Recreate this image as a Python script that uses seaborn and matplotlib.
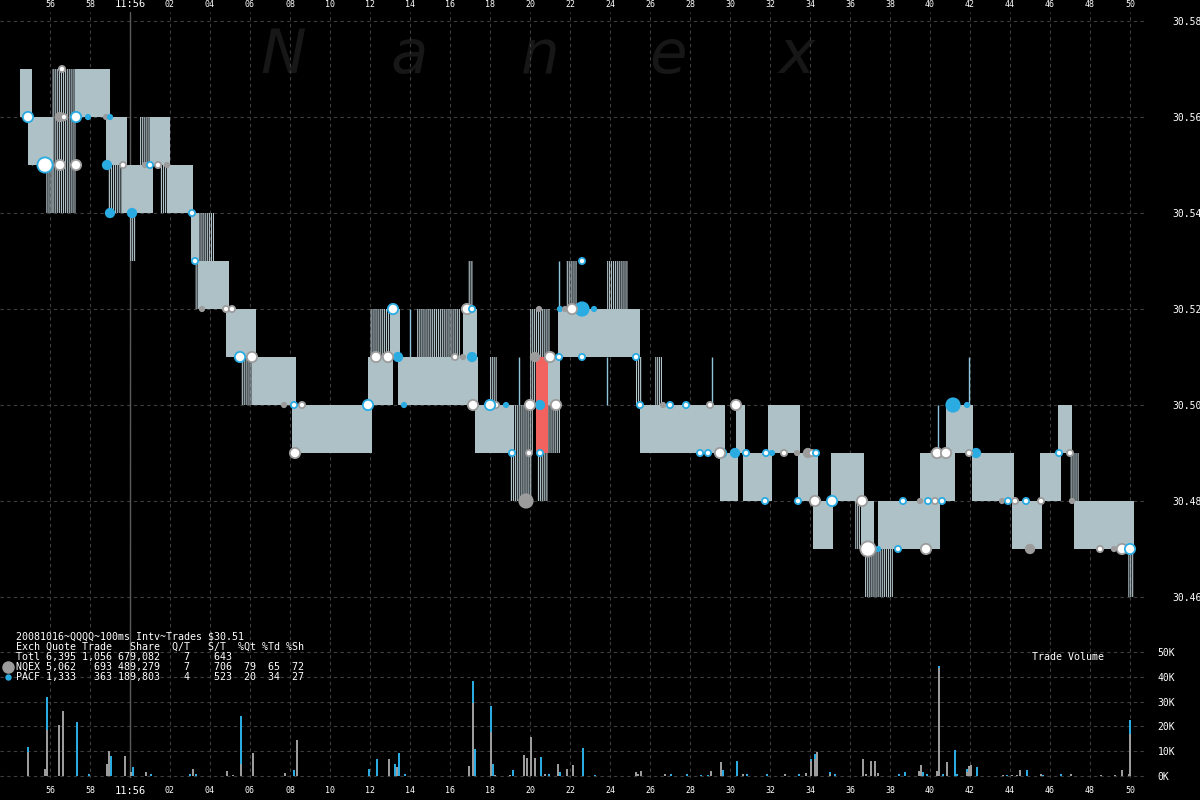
import matplotlib
matplotlib.use("Agg")
import matplotlib.pyplot as plt
from matplotlib.lines import Line2D
import seaborn as sns
import pandas as pd

# QQQQ 2008-10-16, 100ms intervals around 11:56:00
# time is in seconds relative to 11:56:00

tick_secs = [-4, -2, 0, 2, 4, 6, 8, 10, 12, 14, 16, 18, 20, 22, 24, 26, 28, 30,
             32, 34, 36, 38, 40, 42, 44, 46, 48, 50]
tick_labels = ['56', '58', '11:56', '02', '04', '06', '08', '10', '12', '14', '16',
               '18', '20', '22', '24', '26', '28', '30', '32', '34', '36', '38',
               '40', '42', '44', '46', '48', '50']
price_ticks = [30.46, 30.48, 30.50, 30.52, 30.54, 30.56, 30.58]
vol_ticks = [0, 10, 20, 30, 40, 50]

# quote spans: s = best bid/offer block, h = exchange quote lines, r = crossed
quote_start = [-5.5, -5.1, -4.2, -3.9, -2.75, -1.2, -1.1, -0.4, 0.0, 0.5,
               1.0, 1.5, 1.85, 3.05, 3.45, 3.25, 3.4, 4.8, 5.55, 6.1,
               8.1, 11.9, 12.0, 12.15, 13.0, 13.4, 14.35, 16.65, 16.9, 16.85,
               17.25, 18.0, 19.15, 19.0, 20.0, 20.3, 20.3, 20.35, 20.9, 20.9,
               21.4, 21.8, 23.85, 25.3, 25.5, 26.25, 29.5, 30.3, 30.65, 31.9,
               33.4, 34.15, 35.05, 36.25, 36.55, 37.4, 36.75, 39.5, 40.8, 42.1,
               44.1, 45.5, 46.4, 47.0, 47.2, 49.9]
quote_end = [-4.9, -3.85, -3.85, -2.7, -1.0, -0.15, -0.2, 1.15, 0.3, 1.0,
             2.0, 1.85, 3.15, 3.45, 4.2, 3.45, 4.95, 6.3, 6.1, 8.3,
             12.1, 12.15, 13.0, 13.15, 13.5, 16.85, 16.5, 17.35, 17.15, 17.4,
             19.15, 18.35, 20.15, 20.1, 20.3, 21.0, 20.9, 20.9, 21.5, 21.5,
             25.5, 22.35, 24.9, 25.6, 29.75, 26.6, 30.4, 30.75, 32.1, 33.5,
             34.4, 35.15, 36.7, 36.5, 37.2, 40.5, 38.15, 41.25, 42.15, 44.2,
             45.6, 46.55, 47.1, 47.45, 50.2, 50.2]
quote_bid = [30.56, 30.55, 30.54, 30.54, 30.56, 30.55, 30.54, 30.54, 30.53, 30.55,
             30.55, 30.54, 30.54, 30.53, 30.53, 30.52, 30.52, 30.51, 30.50, 30.50,
             30.49, 30.50, 30.51, 30.50, 30.51, 30.50, 30.51, 30.51, 30.52, 30.50,
             30.49, 30.50, 30.49, 30.48, 30.50, 30.51, 30.49, 30.48, 30.50, 30.49,
             30.51, 30.52, 30.52, 30.50, 30.49, 30.50, 30.48, 30.49, 30.48, 30.49,
             30.48, 30.47, 30.48, 30.47, 30.47, 30.47, 30.46, 30.48, 30.49, 30.48,
             30.47, 30.48, 30.49, 30.48, 30.47, 30.46]
quote_ask = [30.57, 30.56, 30.55, 30.57, 30.57, 30.56, 30.55, 30.55, 30.54, 30.56,
             30.56, 30.55, 30.55, 30.54, 30.54, 30.53, 30.53, 30.52, 30.51, 30.51,
             30.50, 30.51, 30.52, 30.51, 30.52, 30.51, 30.52, 30.52, 30.53, 30.51,
             30.50, 30.51, 30.50, 30.49, 30.52, 30.52, 30.51, 30.49, 30.51, 30.50,
             30.52, 30.53, 30.53, 30.51, 30.50, 30.51, 30.49, 30.50, 30.49, 30.50,
             30.49, 30.48, 30.49, 30.48, 30.48, 30.48, 30.47, 30.49, 30.50, 30.49,
             30.48, 30.49, 30.50, 30.49, 30.48, 30.47]
quote_kind = ['s', 's', 'h', 'h', 's', 's', 'h', 's', 'h', 'h',
              's', 'h', 's', 's', 'h', 'h', 's', 's', 'h', 's',
              's', 's', 'h', 's', 's', 's', 'h', 's', 'h', 's',
              's', 'h', 'h', 'h', 'h', 'h', 'r', 'h', 's', 'h',
              's', 'h', 'h', 'h', 's', 'h', 's', 's', 's', 's',
              's', 's', 's', 'h', 's', 's', 'h', 's', 's', 's',
              's', 's', 's', 'h', 's', 'h']

# single quote lines sticking out of the blocks
spike_t = [-4.9, 14.0, 19.45, 21.45, 23.85, 29.1, 40.4, 41.95]
spike_lo = [30.55, 30.51, 30.50, 30.52, 30.50, 30.50, 30.49, 30.50]
spike_hi = [30.56, 30.52, 30.51, 30.53, 30.51, 30.51, 30.50, 30.51]

# trades: time, price, exchange, shares, white-centred print
trade_t = [-5.1, -4.25, -3.5, -3.4, -3.5, -3.3, -2.7, -2.1, -2.7, -1.15,
           -1.0, -1.2, -1.0, -0.35, 0.1, 0.75, 1.0, 1.4, 1.85, 3.1,
           3.25, 3.6, 4.8, 5.1, 5.5, 6.1, 7.7, 8.2, 8.6, 8.25,
           11.9, 12.3, 12.9, 13.4, 13.15, 13.7, 16.25, 16.65, 17.1, 16.85,
           17.1, 17.15, 18.0, 18.3, 18.8, 19.1, 19.95, 20.5, 19.8, 20.0,
           20.5, 21.3, 20.25, 21.0, 21.45, 20.45, 21.5, 21.75, 22.1, 22.6,
           23.2, 22.6, 22.6, 25.3, 25.5, 26.65, 27.0, 27.8, 29.0, 30.3,
           28.5, 28.9, 29.5, 29.6, 30.25, 30.8, 31.8, 32.1, 32.7, 33.35,
           33.9, 34.1, 34.3, 31.75, 33.4, 34.25, 35.1, 36.6, 38.65, 39.5,
           39.9, 40.25, 40.6, 36.9, 37.4, 38.4, 39.8, 40.35, 40.8, 41.15,
           41.85, 41.95, 42.3, 43.6, 43.9, 44.25, 44.8, 45.55, 45.0, 46.45,
           47.0, 47.1, 48.5, 49.2, 49.6, 50.0]
trade_px = [30.56, 30.55, 30.55, 30.57, 30.56, 30.56, 30.56, 30.56, 30.55, 30.55,
            30.54, 30.56, 30.56, 30.55, 30.54, 30.55, 30.55, 30.55, 30.55, 30.54,
            30.53, 30.52, 30.52, 30.52, 30.51, 30.51, 30.50, 30.50, 30.50, 30.49,
            30.50, 30.51, 30.51, 30.51, 30.52, 30.50, 30.51, 30.51, 30.51, 30.52,
            30.52, 30.50, 30.50, 30.50, 30.50, 30.49, 30.49, 30.49, 30.48, 30.50,
            30.50, 30.50, 30.51, 30.51, 30.51, 30.52, 30.52, 30.52, 30.52, 30.52,
            30.52, 30.53, 30.51, 30.51, 30.50, 30.50, 30.50, 30.50, 30.50, 30.50,
            30.49, 30.49, 30.49, 30.49, 30.49, 30.49, 30.49, 30.49, 30.49, 30.49,
            30.49, 30.49, 30.49, 30.48, 30.48, 30.48, 30.48, 30.48, 30.48, 30.48,
            30.48, 30.48, 30.48, 30.47, 30.47, 30.47, 30.47, 30.49, 30.49, 30.50,
            30.50, 30.49, 30.49, 30.48, 30.48, 30.48, 30.48, 30.48, 30.47, 30.49,
            30.49, 30.48, 30.47, 30.47, 30.47, 30.47]
trade_exch = ['P', 'P', 'N', 'N', 'N', 'N', 'P', 'P', 'N', 'P',
              'P', 'N', 'P', 'N', 'P', 'N', 'P', 'N', 'N', 'P',
              'P', 'N', 'N', 'N', 'P', 'N', 'N', 'P', 'N', 'N',
              'P', 'N', 'N', 'P', 'P', 'P', 'N', 'N', 'P', 'N',
              'P', 'N', 'P', 'N', 'P', 'P', 'N', 'P', 'N', 'N',
              'P', 'N', 'N', 'N', 'P', 'N', 'P', 'N', 'N', 'P',
              'P', 'P', 'P', 'P', 'P', 'N', 'P', 'P', 'N', 'N',
              'P', 'P', 'N', 'P', 'P', 'P', 'P', 'P', 'N', 'N',
              'N', 'N', 'P', 'P', 'P', 'N', 'P', 'N', 'P', 'N',
              'P', 'N', 'P', 'N', 'P', 'P', 'N', 'N', 'N', 'P',
              'P', 'N', 'P', 'N', 'P', 'N', 'P', 'N', 'N', 'P',
              'N', 'N', 'N', 'N', 'N', 'P']
trade_shares = [500, 2000, 500, 100, 500, 100, 500, 100, 500, 500,
                500, 100, 100, 100, 500, 100, 100, 100, 100, 100,
                100, 100, 100, 100, 500, 500, 100, 100, 100, 500,
                500, 500, 500, 500, 500, 100, 100, 100, 500, 500,
                100, 500, 500, 100, 100, 100, 100, 100, 2000, 500,
                500, 500, 500, 500, 100, 100, 100, 100, 500, 2000,
                100, 100, 100, 100, 100, 100, 100, 100, 100, 500,
                100, 100, 500, 500, 500, 100, 100, 100, 100, 100,
                500, 100, 100, 100, 100, 500, 500, 500, 100, 100,
                100, 100, 100, 2000, 100, 100, 500, 500, 500, 2000,
                100, 100, 500, 100, 100, 100, 100, 100, 500, 100,
                100, 100, 100, 100, 500, 500]
trade_white = [1, 1, 1, 1, 0, 1, 1, 0, 1, 0,
               0, 0, 0, 1, 0, 0, 1, 1, 0, 1,
               1, 0, 1, 1, 1, 1, 0, 1, 1, 1,
               1, 1, 1, 0, 1, 0, 1, 0, 0, 1,
               1, 1, 1, 1, 0, 1, 1, 1, 0, 1,
               0, 1, 0, 1, 1, 0, 0, 0, 1, 0,
               0, 1, 1, 1, 1, 0, 1, 1, 1, 1,
               1, 1, 1, 0, 0, 1, 1, 0, 1, 0,
               0, 1, 1, 1, 1, 1, 1, 1, 1, 0,
               1, 1, 1, 1, 0, 1, 1, 1, 1, 0,
               0, 1, 0, 0, 1, 1, 1, 1, 0, 1,
               1, 0, 1, 0, 1, 1]

# trade volume per 100ms interval, thousands of shares
vol_t = [-5.1, -4.25, -4.15, -3.55, -3.35, -2.65, -2.05, -1.15, -1.05, -0.95,
         -0.25, 0.05, 0.15, 0.8, 1.05, 3.0, 3.15, 3.3, 4.85, 5.15,
         5.55, 6.15, 7.75, 8.2, 8.35, 11.95, 12.35, 12.95, 13.25, 13.35,
         13.45, 13.75, 16.95, 17.15, 17.25, 18.05, 18.15, 18.25, 19.0, 19.15,
         19.7, 19.85, 20.05, 20.25, 20.55, 20.75, 20.95, 21.4, 21.5, 21.85,
         22.15, 22.65, 23.25, 25.3, 25.4, 25.55, 26.75, 27.05, 27.85, 28.55,
         28.9, 29.05, 29.55, 29.65, 30.35, 30.65, 30.85, 31.85, 32.75, 33.45,
         33.8, 34.05, 34.25, 34.35, 35.0, 35.25, 36.65, 36.8, 37.05, 37.25,
         37.4, 38.45, 38.75, 39.45, 39.55, 39.65, 39.85, 40.35, 40.45, 40.65,
         40.85, 41.25, 41.35, 41.85, 41.95, 42.05, 42.35, 43.65, 43.85, 44.1,
         44.35, 44.5, 44.85, 45.55, 45.65, 46.55, 47.05, 48.55, 49.25, 49.6,
         49.95, 50.0]
vol_nqex = [9.5, 3, 18.5, 20.6, 26.2, 0, 0, 4.8, 10, 0,
            8, 1.5, 0, 1.5, 0, 0, 2.7, 0, 2, 0.5,
            5, 9.4, 1.2, 0, 14.5, 0, 0, 6.9, 0, 3.5,
            0, 0, 4, 29.3, 0, 17.9, 0, 0.5, 0.5, 0,
            8.5, 7.4, 15.6, 7.1, 0, 0.8, 0, 4.7, 0, 3,
            4.4, 0, 0, 1.5, 1, 2.2, 1, 0, 0, 0,
            0, 2, 5.6, 0, 0, 0.8, 0, 0, 0.8, 0,
            1.2, 6, 7, 9.7, 1, 0, 6.8, 0.8, 6, 6,
            1.2, 0, 0, 2.2, 4.3, 0, 0, 2.2, 43.4, 0,
            5.6, 0, 0, 1.5, 4, 4.3, 0, 0.3, 0, 0.3,
            0.3, 2.4, 0, 1, 0, 0, 1, 0.3, 0.3, 2.3,
            0.8, 17]
vol_pacf = [2, 0, 13.2, 0, 0, 21.8, 1, 0, 0, 8,
            0, 0, 3.5, 0, 0.8, 0.8, 0, 1, 0, 0,
            19.2, 0, 0, 2.5, 0, 3, 6.9, 0, 5, 0,
            9.4, 0.8, 0, 9, 11, 10.5, 5, 0, 0, 2.4,
            0, 0, 0, 0, 7.5, 0, 0.8, 0, 1.5, 0,
            0, 11.3, 0.5, 0, 0, 0, 0, 1, 1, 0.6,
            0.6, 0, 0, 2.4, 6, 0, 0.8, 1, 0, 0.8,
            0, 1, 1.9, 0, 0.8, 0.8, 0, 0, 0, 0,
            0, 0.8, 1.7, 0, 0, 1.5, 1, 0, 1, 1,
            0, 10.5, 1, 1.5, 0, 0, 3.5, 0, 0.5, 0,
            0, 0, 2.4, 0, 0.5, 1, 0, 0, 0, 0,
            0, 5.6]

header_lines = [
    "20081016~QQQQ~100ms Intv~Trades $30.51",
    "Exch Quote Trade   Share  Q/T   S/T  %Qt %Td %Sh",
    "Totl 6,395 1,056 679,082    7    643",
    "NQEX 5,062   693 489,279    7    706  79  65  72",
    "PACF 1,333   363 189,803    4    523  20  34  27",
]

GRAY = '#9c9c9c'
BLUE = '#2aace2'
BOX = '#aec1c7'
LINES = '#b3c5cb'
RED = '#f2625f'
GRID = '#3e3e3e'

sns.set_style("dark", {"axes.facecolor": "black", "figure.facecolor": "black"})
plt.rcParams['font.family'] = ['DejaVu Sans Mono']
plt.rcParams['hatch.linewidth'] = 0.85

quotes = pd.DataFrame({'start': quote_start, 'end': quote_end, 'bid': quote_bid,
                       'ask': quote_ask, 'kind': quote_kind})
trades = pd.DataFrame({'t': trade_t, 'price': trade_px, 'exch': trade_exch,
                       'shares': trade_shares, 'white': trade_white})
vol = pd.DataFrame({'t': vol_t, 'nqex': vol_nqex, 'pacf': vol_pacf})

fig = plt.figure(figsize=(12, 8), dpi=100, facecolor='black')
ax = fig.add_axes([0, 0.2, 1145 / 1200, 0.785])
axv = fig.add_axes([0, 0.0275, 1145 / 1200, 0.1725])

for a in (ax, axv):
    a.set_facecolor('black')
    a.set_xlim(-6.5, 50.75)
    a.set_axisbelow(True)
    a.grid(True, color=GRID, ls=(0, (3, 3)), lw=0.8)
    a.axvline(0, color='#5a5a5a', lw=1, zorder=1)
    for sp in a.spines.values():
        sp.set_visible(False)

ax.set_ylim(30.45104, 30.58188)
axv.set_ylim(-0.806, 54.84)

# watermark
for ch, xpix in zip("Nanex", [283, 409, 540, 668, 797]):
    ax.text(xpix / 1200, 1 - 73 / 800, ch, transform=fig.transFigure, ha='center',
            va='baseline', fontsize=44, style='italic', family='DejaVu Sans',
            color='#171717', zorder=0.2)

# quote blocks
for kind, z in [('h', 2), ('s', 3), ('r', 4)]:
    q = quotes[quotes.kind == kind]
    if kind == 'h':
        ax.bar(q.start, q.ask - q.bid, width=q.end - q.start, bottom=q.bid, align='edge',
               facecolor='none', edgecolor=LINES, hatch='||||||||', linewidth=0, zorder=z)
    else:
        ax.bar(q.start, q.ask - q.bid, width=q.end - q.start, bottom=q.bid, align='edge',
               color=BOX if kind == 's' else RED, linewidth=0, zorder=z)
ax.vlines(spike_t, spike_lo, spike_hi, color='#8fc6dc', lw=1, zorder=2.5)

# trades
sizes = {100: 20, 500: 55, 2000: 120}
names = {'N': GRAY, 'P': BLUE}
sns.scatterplot(data=trades[trades.white == 0], x='t', y='price', hue='exch',
                palette=names, size='shares', sizes=sizes, linewidth=0,
                legend=False, ax=ax, zorder=5)
for ex, col in names.items():
    sub = trades[(trades.white == 1) & (trades.exch == ex)]
    sns.scatterplot(data=sub, x='t', y='price', size='shares', sizes=sizes,
                    color='white', edgecolor=col, linewidth=1.3, legend=False,
                    ax=ax, zorder=6)

# volume
axv.bar(vol.t, vol.nqex, width=0.1, color=GRAY, linewidth=0, zorder=3)
axv.bar(vol.t, vol.pacf, bottom=vol.nqex, width=0.1, color=BLUE, linewidth=0, zorder=3)

# ticks
ax.set_xlabel('')
ax.set_ylabel('')
ax.set_xticks(tick_secs)
ax.set_xticklabels(tick_labels)
ax.xaxis.tick_top()
ax.tick_params(axis='x', length=0, pad=2, labelsize=6, labelcolor='white')
ax.set_yticks(price_ticks)
ax.set_yticklabels(['%.2f' % p for p in price_ticks])
ax.yaxis.tick_right()
ax.tick_params(axis='y', length=0, pad=19.5, labelsize=7, labelcolor='white')

axv.set_xticks(tick_secs)
axv.set_xticklabels(tick_labels)
axv.tick_params(axis='x', length=0, pad=6, labelsize=6, labelcolor='white')
axv.set_yticks(vol_ticks)
axv.set_yticklabels(['%dK' % v for v in vol_ticks])
axv.yaxis.tick_right()
axv.tick_params(axis='y', length=0, pad=9, labelsize=7, labelcolor='white')

for a in (ax, axv):
    for lab in a.get_xticklabels():
        if lab.get_text() == '11:56':
            lab.set_fontsize(7.5)

# header block
for i, line in enumerate(header_lines):
    fig.text(16 / 1200, 1 - (636.7 + 10 * i) / 800, line, ha='left', va='center',
             fontsize=7.2, color='white')
fig.add_artist(Line2D([8 / 1200], [1 - 666.5 / 800], marker='o', ms=8, color=GRAY,
                      transform=fig.transFigure))
fig.add_artist(Line2D([8 / 1200], [1 - 676.5 / 800], marker='o', ms=3.6, color=BLUE,
                      transform=fig.transFigure))
fig.text(1032 / 1200, 1 - 657 / 800, 'Trade Volume', ha='left', va='center',
         fontsize=7.2, color='white')

fig.savefig('out.png', dpi=100, facecolor='black')
